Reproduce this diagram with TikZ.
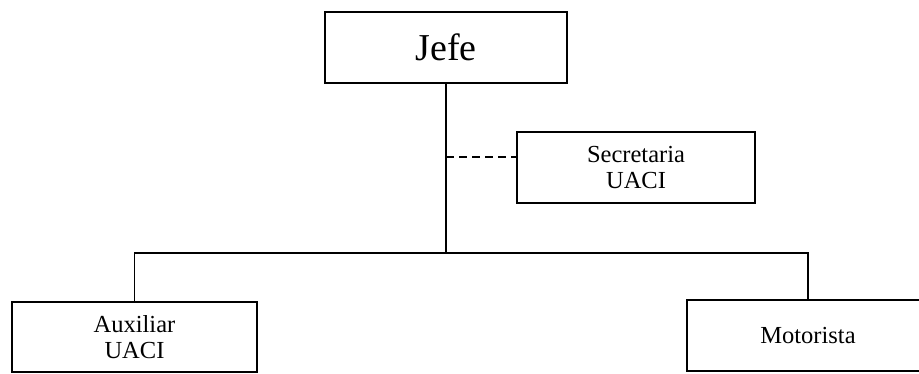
\documentclass[tikz,border=0pt]{standalone}
\usepackage{fontspec}
\setmainfont{Liberation Serif}
\begin{document}
\begin{tikzpicture}[x=1pt,y=-1pt,
  box/.style={draw, line width=1.2pt, inner sep=0pt, align=center,
    font=\fontsize{24.5}{26}\selectfont},
  link/.style={line width=1.2pt},
  dashlink/.style={line width=1.2pt, dash pattern=on 8pt off 5pt}]
\useasboundingbox (0,0) rectangle (919,374);
\clip (0,0) rectangle (919,374);
\node[box, minimum width=242pt, minimum height=71pt, font=\fontsize{38}{40}\selectfont] (jefe) at (446,47.5) {Jefe};
\node[box, minimum width=238pt, minimum height=71pt] (sec) at (636,167.5) {Secretaria\\UACI};
\node[box, minimum width=245pt, minimum height=70pt] (aux) at (134.5,337) {Auxiliar\\UACI};
\node[box, minimum width=242pt, minimum height=71pt] (mot) at (808,335.5) {Motorista};
\coordinate (busM) at (446,253);
\coordinate (dashy) at (0,157);
\draw[link] (jefe.south) -- (busM);
\draw[link] (aux.north) |- (busM) -| (mot.north);
\draw[dashlink] (jefe.south |- dashy) -- (sec.west |- dashy);
\end{tikzpicture}
\end{document}
